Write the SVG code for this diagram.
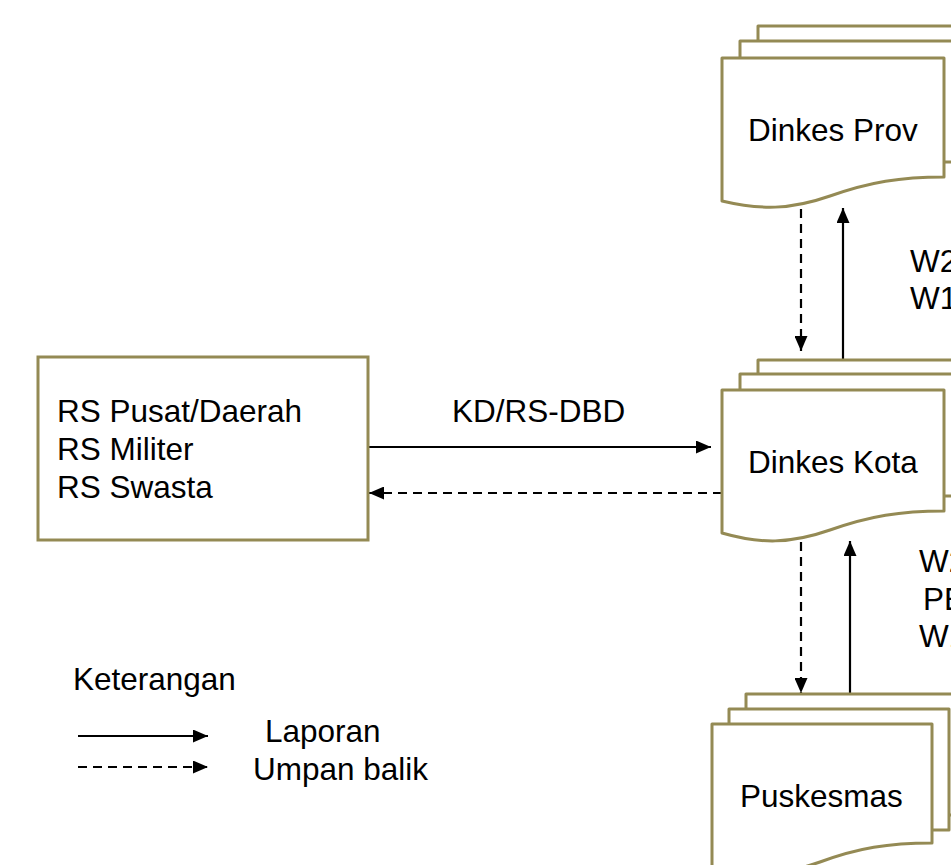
<svg xmlns="http://www.w3.org/2000/svg" width="951" height="865" viewBox="0 0 951 865">
<style>
  .doc { fill: #ffffff; stroke: #948A54; stroke-width: 3; stroke-linejoin: round; }
  .box { fill: #ffffff; stroke: #948A54; stroke-width: 3; }
  .t { font-family: "Liberation Sans", Arial, sans-serif; font-size: 31.5px; fill: #000000; }
  .solid { stroke: #000000; stroke-width: 2.2; fill: none; marker-end: url(#ah); }
  .dash { stroke: #000000; stroke-width: 2.2; fill: none; stroke-dasharray: 9 6; marker-end: url(#ah); }
</style>
<defs>
  <marker id="ah" markerUnits="userSpaceOnUse" markerWidth="15" markerHeight="13" refX="15" refY="6.5" orient="auto">
    <path d="M0,0 L15,6.5 L0,13 Z" fill="#000000"/>
  </marker>
</defs>
<rect width="951" height="865" fill="#ffffff"/>

<g id="connectors">
  <line class="dash" x1="801" y1="209" x2="801" y2="351"/>
  <line class="solid" x1="843" y1="359" x2="843" y2="208"/>
  <line class="dash" x1="801" y1="542" x2="801" y2="693"/>
  <line class="solid" x1="850" y1="694" x2="850" y2="541"/>
  <line class="solid" x1="368" y1="447" x2="711" y2="447"/>
  <line class="dash" x1="722" y1="493" x2="369" y2="493"/>
</g>

<g id="rs">
  <rect class="box" x="38" y="357" width="330" height="183"/>
  <text class="t" x="57" y="422">RS Pusat/Daerah</text>
  <text class="t" x="57" y="460">RS Militer</text>
  <text class="t" x="57" y="498">RS Swasta</text>
</g>

<g id="dinkes-prov">
  <rect class="doc" x="758" y="26" width="222" height="121"/>
  <rect class="doc" x="740" y="41" width="222" height="121"/>
  <path class="doc" d="M722,58 L944,58 L944,177 C900,177 870,182 830,196 C790,210 760,210 722,201 Z"/>
  <text class="t" x="748" y="141">Dinkes Prov</text>
</g>

<g id="dinkes-kota">
  <rect class="doc" x="758" y="360" width="222" height="121"/>
  <rect class="doc" x="740" y="374" width="222" height="122"/>
  <path class="doc" d="M722,390 L944,390 L944,511 C900,511 870,516 830,530 C790,544 760,544 722,533 Z"/>
  <text class="t" x="748" y="473">Dinkes Kota</text>
</g>

<g id="puskesmas">
  <rect class="doc" x="746" y="694" width="220" height="121"/>
  <rect class="doc" x="729" y="709" width="220" height="121"/>
  <path class="doc" d="M712,724 L932,724 L932,843 C888,843 858,848 820,862 C780,876 750,876 712,867 Z"/>
  <text class="t" x="740" y="807">Puskesmas</text>
</g>

<g id="labels">
  <text class="t" x="910" y="272">W2</text>
  <text class="t" x="910" y="309">W1</text>
  <text class="t" x="452" y="422">KD/RS-DBD</text>
  <text class="t" x="919" y="572">W2</text>
  <text class="t" x="923" y="610">PE</text>
  <text class="t" x="919" y="647">W1</text>
</g>

<g id="legend">
  <text class="t" x="73" y="690">Keterangan</text>
  <line class="solid" x1="78" y1="736" x2="208" y2="736"/>
  <line class="dash" x1="78" y1="767" x2="208" y2="767"/>
  <text class="t" x="265" y="742">Laporan</text>
  <text class="t" x="253" y="780">Umpan balik</text>
</g>
</svg>
